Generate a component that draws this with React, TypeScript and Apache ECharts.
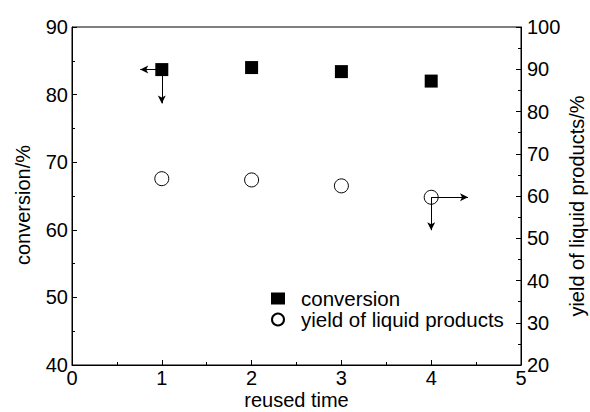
import React, { useEffect, useRef } from "react";
import * as echarts from "echarts";

const reuseTimes = [1, 2, 3, 4];
const conversion = [83.7, 84.0, 83.4, 82.0];
const yieldLiquid = [64.1, 63.8, 62.4, 59.7];
const xTicks = [0, 1, 2, 3, 4, 5];
const leftTicks = [40, 50, 60, 70, 80, 90];
const rightTicks = [20, 30, 40, 50, 60, 70, 80, 90, 100];

const FONT = "'Liberation Sans', Arial, Helvetica, sans-serif";

export default function App() {
  const ref = useRef<HTMLDivElement>(null);
  useEffect(() => {
    if (!ref.current) return;
    const chart = echarts.init(ref.current, undefined, { renderer: "svg" });
    const axisCommon = {
      nameMoveOverlap: false,
      axisLine: { show: true, lineStyle: { color: "#000", width: 1 } },
      axisTick: { show: true, inside: true, length: 5, lineStyle: { color: "#000" } },
      minorTick: { show: true, splitNumber: 2, length: 3, lineStyle: { color: "#000" } },
      splitLine: { show: false },
      axisLabel: { color: "#000", fontSize: 20, fontFamily: FONT },
      nameTextStyle: { color: "#000", fontSize: 20, fontFamily: FONT },
    };
    const arrowLine = { color: "#000", width: 1, type: "solid" as const, opacity: 1 };
    chart.setOption({
      animation: false,
      backgroundColor: "#fff",
      grid: {
        left: 72, right: 69, top: 27, bottom: 47,
        containLabel: false, outerBoundsMode: "none",
        show: true, borderColor: "#000", borderWidth: 1, backgroundColor: "transparent",
      },
      legend: {
        orient: "vertical",
        left: 266,
        top: 283,
        padding: 5,
        itemWidth: 14,
        itemHeight: 12,
        itemGap: 0,
        textStyle: { color: "#000", fontSize: 20.5, fontFamily: FONT, padding: [0, 0, 0, 11] },
        data: ["conversion", "yield of liquid products"],
      },
      xAxis: {
        type: "value",
        min: xTicks[0],
        max: xTicks[xTicks.length - 1],
        interval: 1,
        name: "reused time",
        nameLocation: "middle",
        nameGap: 25,
        ...axisCommon,
        axisLabel: { ...axisCommon.axisLabel, margin: 3 },
      },
      yAxis: [
        {
          type: "value",
          min: leftTicks[0],
          max: leftTicks[leftTicks.length - 1],
          interval: 10,
          name: "conversion/%",
          nameLocation: "middle",
          nameGap: 39,
          position: "left",
          ...axisCommon,
          nameTextStyle: { ...axisCommon.nameTextStyle, padding: [0, 18, 0, 0] },
          axisLabel: { ...axisCommon.axisLabel, margin: 4 },
        },
        {
          type: "value",
          min: rightTicks[0],
          max: rightTicks[rightTicks.length - 1],
          interval: 10,
          name: "yield of liquid products/%",
          nameLocation: "middle",
          nameGap: 46,
          position: "right",
          ...axisCommon,
          nameTextStyle: { ...axisCommon.nameTextStyle, padding: [0, 20, 0, 0] },
          axisLabel: { ...axisCommon.axisLabel, margin: 6 },
        },
      ],
      series: [
        {
          name: "conversion",
          type: "scatter",
          yAxisIndex: 0,
          symbol: "rect",
          symbolSize: 13,
          itemStyle: { color: "#000", opacity: 1 },
          z: 3,
          data: reuseTimes.map((x, i) => [x, conversion[i]]),
          markLine: {
            silent: true,
            symbol: ["none", "arrow"],
            symbolSize: [6, 8],
            label: { show: false },
            lineStyle: arrowLine,
            emphasis: { disabled: true },
            data: [
              [{ coord: [reuseTimes[0], conversion[0]] }, { coord: [0.76, conversion[0]] }],
              [{ coord: [reuseTimes[0], conversion[0]] }, { coord: [reuseTimes[0], 78.7] }],
            ],
          },
        },
        {
          name: "yield of liquid products",
          type: "scatter",
          yAxisIndex: 1,
          symbol: "circle",
          symbolSize: 14,
          itemStyle: { color: "#fff", borderColor: "#000", borderWidth: 1, opacity: 1 },
          z: 3,
          data: reuseTimes.map((x, i) => [x, yieldLiquid[i]]),
          markLine: {
            silent: true,
            symbol: ["none", "arrow"],
            symbolSize: [6, 8],
            label: { show: false },
            lineStyle: arrowLine,
            emphasis: { disabled: true },
            data: [
              [{ coord: [reuseTimes[3], yieldLiquid[3]] }, { coord: [4.41, yieldLiquid[3]] }],
              [{ coord: [reuseTimes[3], yieldLiquid[3]] }, { coord: [reuseTimes[3], 51.9] }],
            ],
          },
        },
      ],
    });
    return () => chart.dispose();
  }, []);
  return <div ref={ref} style={{ width: 590, height: 412, position: "absolute", left: 0, top: 0 }} />;
}
